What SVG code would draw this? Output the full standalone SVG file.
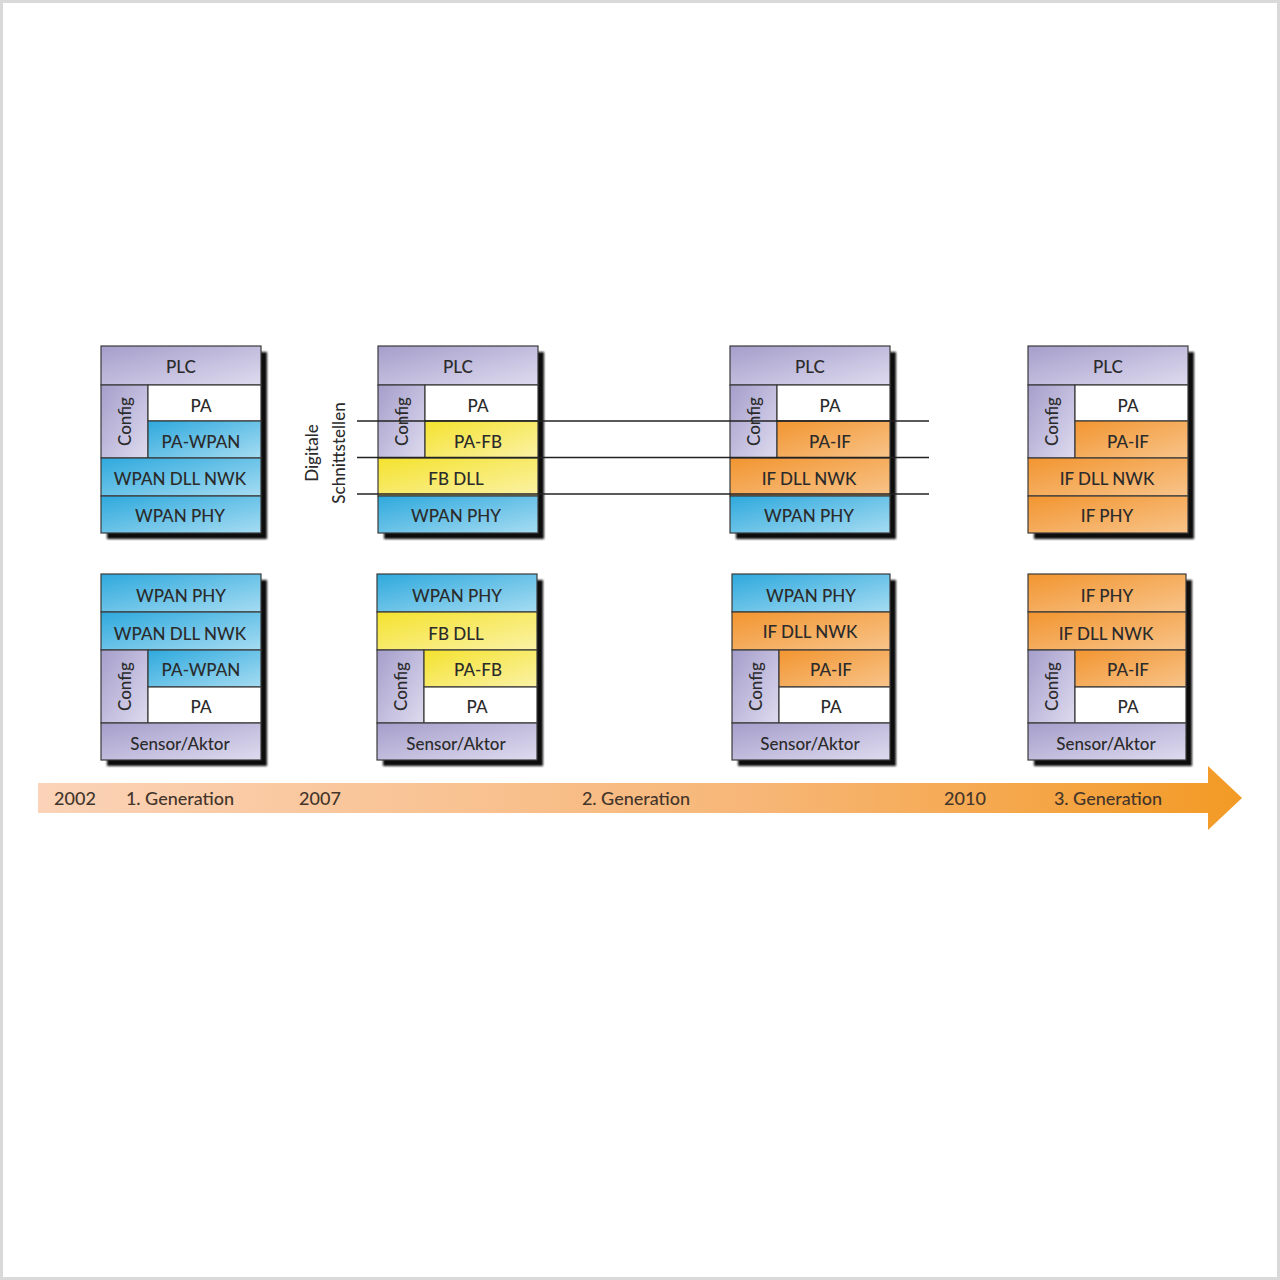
<svg xmlns="http://www.w3.org/2000/svg" width="1280" height="1280" viewBox="0 0 1280 1280">
<defs>
<linearGradient id="gP" x1="0" y1="0" x2="1" y2="1"><stop offset="0" stop-color="#a59ecb"/><stop offset="1" stop-color="#dedbef"/></linearGradient>
<linearGradient id="gB" x1="0" y1="0" x2="1" y2="1"><stop offset="0" stop-color="#2ea9dd"/><stop offset="1" stop-color="#a6dcf2"/></linearGradient>
<linearGradient id="gY" x1="0" y1="0" x2="1" y2="1"><stop offset="0" stop-color="#f4e22e"/><stop offset="1" stop-color="#fbf2a6"/></linearGradient>
<linearGradient id="gO" x1="0" y1="0" x2="1" y2="1"><stop offset="0" stop-color="#f29530"/><stop offset="1" stop-color="#f8c48a"/></linearGradient>
<linearGradient id="gA" x1="0" y1="0" x2="1" y2="0"><stop offset="0" stop-color="#fbd3b8"/><stop offset="0.6" stop-color="#f7b676"/><stop offset="1" stop-color="#f39a25"/></linearGradient>
<filter id="blur" x="-10%" y="-10%" width="120%" height="120%"><feGaussianBlur stdDeviation="1.2"/></filter>
<style>
.c{stroke:#3a3a3a;stroke-width:1.2}
.p{fill:url(#gP)}.b{fill:url(#gB)}.y{fill:url(#gY)}.o{fill:url(#gO)}.w{fill:#fff}
.sh{fill:#111;filter:url(#blur)}
text{font-family:Lato,"Liberation Sans",sans-serif;font-size:17px;fill:#2b2b2b;text-anchor:middle;font-weight:500}
.t{font-size:18px;fill:#44352b}
.ln{stroke:#222;stroke-width:1.4}
</style>
</defs>
<rect x="0" y="0" width="1280" height="1280" fill="#fff"/>
<rect x="1.5" y="1.5" width="1277" height="1277" fill="none" stroke="#d9d9d9" stroke-width="3"/>

<g id="timeline">
<polygon points="38,783 1208,783 1208,766 1242,798 1208,830 1208,813 38,813" fill="url(#gA)"/>
<text class="t" x="75" y="805">2002</text>
<text class="t" x="180" y="805">1. Generation</text>
<text class="t" x="320" y="805">2007</text>
<text class="t" x="636" y="805">2. Generation</text>
<text class="t" x="965" y="805">2010</text>
<text class="t" x="1108" y="805">3. Generation</text>
</g>

<g id="top1">
<rect class="sh" x="107" y="352" width="160" height="187"/>
<rect class="c p" x="101" y="346" width="160" height="39"/>
<rect class="c p" x="101" y="385" width="47" height="73"/>
<rect class="c w" x="148" y="385" width="113" height="36"/>
<rect class="c b" x="148" y="421" width="113" height="37"/>
<rect class="c b" x="101" y="458" width="160" height="38"/>
<rect class="c b" x="101" y="496" width="160" height="37"/>
<text x="181" y="373">PLC</text>
<text x="201" y="412">PA</text>
<text x="201" y="448">PA-WPAN</text>
<text x="180" y="485">WPAN DLL NWK</text>
<text x="180" y="522">WPAN PHY</text>
<text transform="translate(131,421.5) rotate(-90)">Config</text>
</g>

<g id="top2">
<rect class="sh" x="384" y="352" width="160" height="187"/>
<rect class="c p" x="378" y="346" width="160" height="39"/>
<rect class="c p" x="378" y="385" width="47" height="73"/>
<rect class="c w" x="425" y="385" width="113" height="36"/>
<rect class="c y" x="425" y="421" width="113" height="37"/>
<rect class="c y" x="378" y="458" width="160" height="38"/>
<rect class="c b" x="378" y="496" width="160" height="37"/>
<text x="458" y="373">PLC</text>
<text x="478" y="412">PA</text>
<text x="478" y="448">PA-FB</text>
<text x="456" y="485">FB DLL</text>
<text x="456" y="522">WPAN PHY</text>
<text transform="translate(408,421.5) rotate(-90)">Config</text>
</g>

<g id="top3">
<rect class="sh" x="736" y="352" width="160" height="187"/>
<rect class="c p" x="730" y="346" width="160" height="39"/>
<rect class="c p" x="730" y="385" width="47" height="73"/>
<rect class="c w" x="777" y="385" width="113" height="36"/>
<rect class="c o" x="777" y="421" width="113" height="37"/>
<rect class="c o" x="730" y="458" width="160" height="38"/>
<rect class="c b" x="730" y="496" width="160" height="37"/>
<text x="810" y="373">PLC</text>
<text x="830" y="412">PA</text>
<text x="830" y="448">PA-IF</text>
<text x="809" y="485">IF DLL NWK</text>
<text x="809" y="522">WPAN PHY</text>
<text transform="translate(760,421.5) rotate(-90)">Config</text>
</g>

<g id="top4">
<rect class="sh" x="1034" y="352" width="160" height="187"/>
<rect class="c p" x="1028" y="346" width="160" height="39"/>
<rect class="c p" x="1028" y="385" width="47" height="73"/>
<rect class="c w" x="1075" y="385" width="113" height="36"/>
<rect class="c o" x="1075" y="421" width="113" height="37"/>
<rect class="c o" x="1028" y="458" width="160" height="38"/>
<rect class="c o" x="1028" y="496" width="160" height="37"/>
<text x="1108" y="373">PLC</text>
<text x="1128" y="412">PA</text>
<text x="1128" y="448">PA-IF</text>
<text x="1107" y="485">IF DLL NWK</text>
<text x="1107" y="522">IF PHY</text>
<text transform="translate(1058,421.5) rotate(-90)">Config</text>
</g>

<g id="bot1">
<rect class="sh" x="107" y="580" width="160" height="186"/>
<rect class="c b" x="101" y="574" width="160" height="38"/>
<rect class="c b" x="101" y="612" width="160" height="38"/>
<rect class="c p" x="101" y="650" width="47" height="73"/>
<rect class="c b" x="148" y="650" width="113" height="37"/>
<rect class="c w" x="148" y="687" width="113" height="36"/>
<rect class="c p" x="101" y="723" width="160" height="37"/>
<text x="181" y="602">WPAN PHY</text>
<text x="180" y="640">WPAN DLL NWK</text>
<text x="201" y="676">PA-WPAN</text>
<text x="201" y="713">PA</text>
<text x="180" y="750">Sensor/Aktor</text>
<text transform="translate(131,686.5) rotate(-90)">Config</text>
</g>

<g id="bot2">
<rect class="sh" x="383" y="580" width="160" height="186"/>
<rect class="c b" x="377" y="574" width="160" height="38"/>
<rect class="c y" x="377" y="612" width="160" height="38"/>
<rect class="c p" x="377" y="650" width="47" height="73"/>
<rect class="c y" x="424" y="650" width="113" height="37"/>
<rect class="c w" x="424" y="687" width="113" height="36"/>
<rect class="c p" x="377" y="723" width="160" height="37"/>
<text x="457" y="602">WPAN PHY</text>
<text x="456" y="640">FB DLL</text>
<text x="478" y="676">PA-FB</text>
<text x="477" y="713">PA</text>
<text x="456" y="750">Sensor/Aktor</text>
<text transform="translate(407,686.5) rotate(-90)">Config</text>
</g>

<g id="bot3">
<rect class="sh" x="738" y="580" width="158" height="186"/>
<rect class="c b" x="732" y="574" width="158" height="38"/>
<rect class="c o" x="732" y="612" width="158" height="38"/>
<rect class="c p" x="732" y="650" width="47" height="73"/>
<rect class="c o" x="779" y="650" width="111" height="37"/>
<rect class="c w" x="779" y="687" width="111" height="36"/>
<rect class="c p" x="732" y="723" width="158" height="37"/>
<text x="811" y="602">WPAN PHY</text>
<text x="810" y="638">IF DLL NWK</text>
<text x="831" y="676">PA-IF</text>
<text x="831" y="713">PA</text>
<text x="810" y="750">Sensor/Aktor</text>
<text transform="translate(762,686.5) rotate(-90)">Config</text>
</g>

<g id="bot4">
<rect class="sh" x="1034" y="580" width="158" height="186"/>
<rect class="c o" x="1028" y="574" width="158" height="38"/>
<rect class="c o" x="1028" y="612" width="158" height="38"/>
<rect class="c p" x="1028" y="650" width="47" height="73"/>
<rect class="c o" x="1075" y="650" width="111" height="37"/>
<rect class="c w" x="1075" y="687" width="111" height="36"/>
<rect class="c p" x="1028" y="723" width="158" height="37"/>
<text x="1107" y="602">IF PHY</text>
<text x="1106" y="640">IF DLL NWK</text>
<text x="1128" y="676">PA-IF</text>
<text x="1128" y="713">PA</text>
<text x="1106" y="750">Sensor/Aktor</text>
<text transform="translate(1058,686.5) rotate(-90)">Config</text>
</g>

<g id="connectors">
<line class="ln" x1="357" y1="421" x2="929" y2="421"/>
<line class="ln" x1="357" y1="457.5" x2="929" y2="457.5"/>
<line class="ln" x1="357" y1="494" x2="929" y2="494"/>
</g>

<g id="label-digitale">
<text transform="translate(318,453) rotate(-90)">Digitale</text>
<text transform="translate(345,453) rotate(-90)">Schnittstellen</text>
</g>
</svg>
